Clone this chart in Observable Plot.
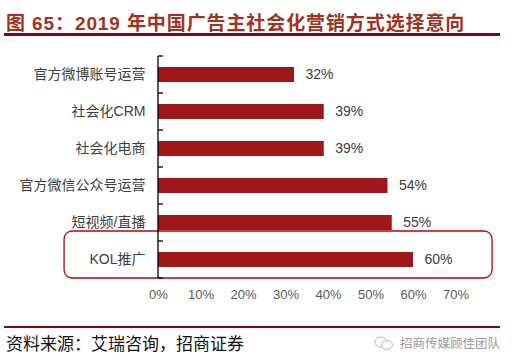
<!DOCTYPE html>
<html>
<head>
<meta charset="utf-8">
<script src="https://cdn.jsdelivr.net/npm/d3@7"></script>
<script src="https://cdn.jsdelivr.net/npm/@observablehq/plot@0.6"></script>
<style>
  html, body { margin: 0; padding: 0; background: #fff; }
  #wrap { position: relative; width: 512px; height: 364px; overflow: hidden; font-family: "Liberation Sans", "Noto Sans CJK SC", sans-serif; }
  #title { position: absolute; left: 6px; top: 8px; font-size: 19px; font-weight: bold; color: #A0321E; white-space: nowrap; letter-spacing: 0.9px; }
  #rule1 { position: absolute; left: 4px; top: 33px; width: 496px; height: 3px; background: #7B0A0A; }
  #rule2 { position: absolute; left: 4px; top: 326px; width: 496px; height: 2px; background: #7B0A0A; }
  #source { position: absolute; left: 6px; top: 330px; font-size: 17px; color: #111; font-family: "Noto Sans CJK SC", serif; white-space: nowrap; }
  #mark { position: absolute; left: 374px; top: 333px; font-size: 12.5px; color: #9a9a9a; white-space: nowrap; font-family: "Noto Sans CJK SC", sans-serif; display: flex; align-items: center; gap: 6px; }
  #chart { position: absolute; left: 0; top: 40px; }
</style>
</head>
<body>
<div id="wrap">
  <div id="title">图 65：2019 年中国广告主社会化营销方式选择意向</div>
  <div id="rule1"></div>
  <div id="chart"></div>
  <div id="rule2"></div>
  <div id="source">资料来源：艾瑞咨询，招商证券</div>
  <div id="mark"><svg width="20" height="16" viewBox="0 0 20 16"><ellipse cx="7" cy="7" rx="6" ry="5" fill="none" stroke="#bbb" stroke-width="1"/><ellipse cx="13" cy="10" rx="5.5" ry="4.5" fill="#fff" stroke="#bbb" stroke-width="1"/></svg><span>招商传媒顾佳团队</span></div>
</div>
<script>
const categories = ["官方微博账号运营", "社会化CRM", "社会化电商", "官方微信公众号运营", "短视频/直播", "KOL推广"];
const values = [0.32, 0.39, 0.39, 0.54, 0.55, 0.60];
const xTicks = [0, 0.1, 0.2, 0.3, 0.4, 0.5, 0.6, 0.7];
const highlightCategory = "KOL推广";
const highlightSpan = [-0.221, 0.786];

const data = categories.map((c, i) => ({category: c, value: values[i]}));

const boundaryTicks = (index, scales) => {
  const y = scales.y;
  const x = scales.x;
  const g = d3.create("svg:g");
  const bw = y.bandwidth ? y.bandwidth() : 37;
  const edges = categories.map(c => y(c)).concat([y(categories[categories.length - 1]) + bw]);
  const x0 = x(0);
  g.append("line").attr("x1", x0).attr("x2", x0).attr("y1", edges[0]).attr("y2", edges[edges.length - 1]).attr("stroke", "#000").attr("stroke-width", 1.3);
  for (const e of edges) {
    g.append("line").attr("x1", x0).attr("x2", x0 + 5).attr("y1", e).attr("y2", e).attr("stroke", "#000").attr("stroke-width", 1.3);
  }
  return g.node();
};

const plot = Plot.plot({
  width: 512,
  height: 270,
  marginTop: 16,
  marginBottom: 32,
  marginLeft: 158,
  marginRight: 56.5,
  style: {fontFamily: "'Liberation Sans', 'Noto Sans CJK SC', sans-serif", fontSize: "14px", color: "#404040", background: "transparent"},
  x: {domain: [0, 0.7], axis: null, label: null},
  y: {domain: categories, padding: 0, axis: null, label: null},
  marks: [
    Plot.barX(data, {x: "value", y: "category", fill: "#A0171A", insetTop: 11, insetBottom: 11}),
    Plot.barX([highlightCategory], {x1: highlightSpan[0], x2: highlightSpan[1], y: d => d, fill: "none", stroke: "#C00000", strokeWidth: 1.3, rx: 8, insetTop: -10, insetBottom: 0, clip: false}),
    boundaryTicks,
    Plot.axisY({tickSize: 0, tickPadding: 13, fontSize: 14, fill: "#404040", label: null}),
    Plot.axisX({ticks: xTicks, tickSize: 0, tickPadding: 11, fontSize: 13, fill: "#595959", label: null, tickFormat: d => Math.round(d * 100) + "%"}),
    Plot.text(data, {x: "value", y: "category", text: d => Math.round(d.value * 100) + "%", dx: 11, textAnchor: "start", fill: "#404040", fontSize: 14})
  ]
});
document.getElementById("chart").appendChild(plot);
</script>
</body>
</html>
